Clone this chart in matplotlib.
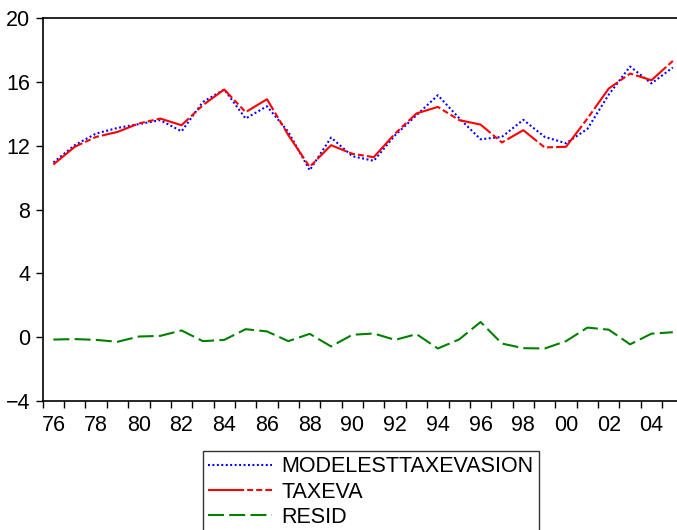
import matplotlib
matplotlib.use("Agg")
import matplotlib.pyplot as plt
import numpy as np

years = list(range(1976, 2006))
fitted = [10.95, 12.03, 12.76, 13.11, 13.35, 13.60, 12.90, 14.74, 15.52, 13.70,
          14.47, 12.86, 10.46, 12.51, 11.34, 11.05, 12.66, 13.91, 15.16, 13.72,
          12.40, 12.55, 13.62, 12.55, 12.15, 13.05, 15.20, 16.96, 15.90, 16.90]
taxeva = [10.82, 11.93, 12.55, 12.86, 13.39, 13.70, 13.28, 14.54, 15.52, 14.10,
          14.91, 12.66, 10.67, 12.03, 11.49, 11.28, 12.76, 14.02, 14.43, 13.60,
          13.32, 12.20, 12.97, 11.89, 11.93, 13.70, 15.58, 16.52, 16.10, 17.31]
resid = [-0.15, -0.12, -0.17, -0.29, 0.04, 0.08, 0.42, -0.25, -0.17, 0.50,
         0.36, -0.25, 0.21, -0.58, 0.15, 0.23, -0.17, 0.19, -0.71, -0.14,
         0.95, -0.40, -0.69, -0.71, -0.25, 0.60, 0.47, -0.45, 0.22, 0.31]
labels = ["MODELESTTAXEVASION", "TAXEVA", "RESID"]
yticks = [-4, 0, 4, 8, 12, 16, 20]

plt.rcParams['font.family'] = ['Liberation Sans', 'DejaVu Sans']
plt.rcParams['lines.scale_dashes'] = False

fig = plt.figure(figsize=(6.77, 5.30), dpi=100)
ax = fig.add_axes([42.7/677, 1 - 401/530, (683.5 - 42.7)/677, (401 - 18)/530])

l1, = ax.plot(years, fitted, color=(0, 0, 1), lw=1.5, dashes=(1.4, 1.8), label=labels[0])
l2, = ax.plot(years, taxeva, color=(1, 0, 0), lw=1.5, dashes=(26, 2.2, 4.3, 2.2, 4.3, 2.2), label=labels[1])
l3, = ax.plot(years, resid, color=(0, 0.5, 0), lw=1.5, dashes=(11.5, 3.8), label=labels[2])

ax.set_xlim(1975.5, 2005.5)
ax.set_ylim(-4, 20)
ax.set_yticks(yticks)
ax.set_yticklabels([str(v) if v >= 0 else "\u2212" + str(-v) for v in yticks])
ax.set_xticks([y - 0.5 for y in range(1976, 2006)])
ax.set_xticklabels([])
ax.set_xticks(list(range(1976, 2006, 2)), minor=True)
ax.set_xticklabels(["%02d" % (y % 100) for y in range(1976, 2006, 2)], minor=True)
ax.tick_params(axis='x', which='major', direction='out', length=5, width=1)
ax.tick_params(axis='x', which='minor', length=0, pad=10, labelsize=15.5)
ax.tick_params(axis='y', direction='out', length=5, width=1, labelsize=15.5, pad=4)
ax.tick_params(top=False, right=False)
for s in ['left', 'bottom', 'top', 'right']:
    ax.spines[s].set_linewidth(1.2)

leg = fig.legend(handles=[l1, l2, l3], loc='upper left',
                 bbox_to_anchor=(203/677, 1 - 451/530), bbox_transform=fig.transFigure,
                 fontsize=15.5, frameon=True, fancybox=False, handlelength=2.95,
                 handletextpad=0.45, labelspacing=0.2, borderpad=0.25, borderaxespad=0)
leg.get_frame().set_edgecolor('black')
leg.get_frame().set_linewidth(1.0)

fig.savefig("out.png", dpi=100)
